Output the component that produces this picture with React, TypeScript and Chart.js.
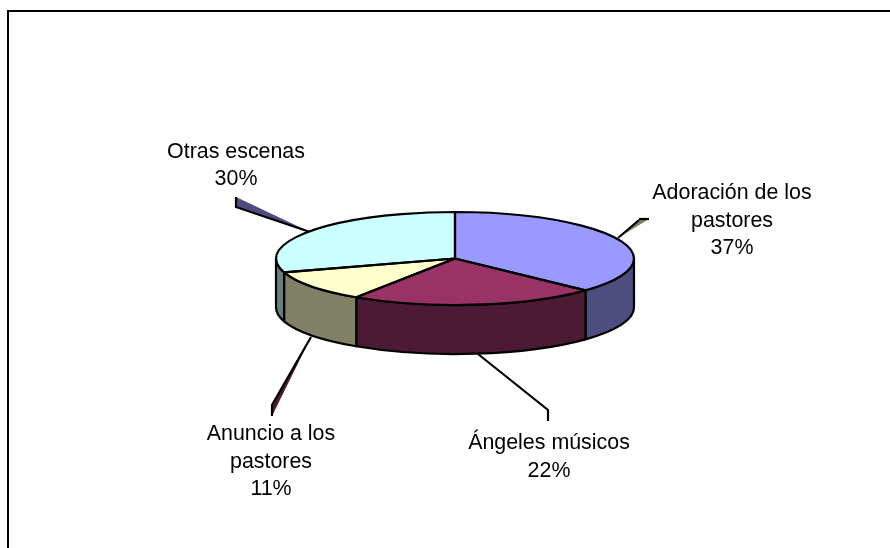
import React, { useEffect, useRef } from "react";
import { Chart, registerables } from "chart.js";

Chart.register(...registerables);

// ---- data ----
const categories = ["Adoración de los pastores", "Ángeles músicos", "Anuncio a los pastores", "Otras escenas"];
const seriesValues = [37, 22.3, 10.9, 29.8];
const percentLabels = ["37%", "22%", "11%", "30%"];
const labelLines = [["Adoración de los", "pastores"], ["Ángeles músicos"], ["Anuncio a los", "pastores"], ["Otras escenas"]];

// ---- styles ----
const topColors = ["#9999FF", "#993366", "#FFFFCC", "#CCFFFF"];
const wallColors = ["#4D4D80", "#4D1A33", "#808066", "#668080"];
const leaderFills = ["#808066", null, "#4D1A33", "#4D4D80"];
const FONT = '21.4px "Liberation Sans", Arial, sans-serif';
const LINE_H = 27.5;
const SQUASH = 46.5 / 179;
const DEPTH = 49;
const STROKE = 2.2;
const labelCenters = [{ x: 732, y: 193.5 }, { x: 549, y: 443.5 }, { x: 271, y: 434.5 }, { x: 236, y: 152 }];
// leader polylines and their thin fill wedge
const leaders = [
  { pts: [[618, 238], [639, 220]], wedge: [[618, 238], [639, 219], [649, 219]], edge: [[639, 219], [649, 219]] },
  { pts: [[478, 354], [548, 410], [548, 421]], wedge: null, edge: null },
  { pts: [[311, 337], [272, 405], [272, 416]], wedge: [[311, 337], [272, 405], [272, 416]], edge: null },
  { pts: [[310, 232], [236, 207], [236, 197]], wedge: [[310, 232], [236, 207], [236, 197]], edge: null },
];

function trace(ctx: CanvasRenderingContext2D, pts: number[][]) {
  ctx.beginPath();
  pts.forEach((p, i) => (i ? ctx.lineTo(p[0], p[1]) : ctx.moveTo(p[0], p[1])));
}

const piePlugin = {
  id: "pie3d",
  beforeDatasetsDraw(chart: any) {
    const ctx: CanvasRenderingContext2D = chart.ctx;
    const arcs = chart.getDatasetMeta(0).data;
    const cx = arcs[0].x, cy = arcs[0].y, r = arcs[0].outerRadius;
    ctx.save();
    // frame: only the top and left edges are in the picture
    ctx.strokeStyle = "#000";
    ctx.lineWidth = 2;
    ctx.beginPath();
    ctx.moveTo(8, 548);
    ctx.lineTo(8, 11);
    ctx.lineTo(890, 11);
    ctx.stroke();

    // leaders
    leaders.forEach((l, i) => {
      if (l.wedge && leaderFills[i]) {
        trace(ctx, l.wedge);
        ctx.closePath();
        ctx.fillStyle = leaderFills[i] as string;
        ctx.fill();
      }
      ctx.lineWidth = STROKE;
      ctx.lineJoin = "miter";
      trace(ctx, l.pts);
      ctx.stroke();
      if (l.edge) {
        trace(ctx, l.edge);
        ctx.stroke();
      }
    });

    // front walls
    const ry = r * SQUASH;
    ctx.lineWidth = STROKE;
    ctx.lineJoin = "round";
    arcs.forEach((a: any, i: number) => {
      // the front half of the disc is canvas angle 0..PI (also 2PI..3PI)
      for (const shift of [0, Math.PI * 2]) {
        const s = Math.max(a.startAngle, shift);
        const e = Math.min(a.endAngle, shift + Math.PI);
        if (e <= s) continue;
        ctx.beginPath();
        ctx.ellipse(cx, cy, r, ry, 0, s, e);
        ctx.ellipse(cx, cy + DEPTH, r, ry, 0, e, s, true);
        ctx.closePath();
        ctx.fillStyle = wallColors[i];
        ctx.fill();
        ctx.stroke();
      }
    });
    ctx.restore();

    // the disc itself is flattened
    ctx.save();
    ctx.translate(cx, cy);
    ctx.scale(1, SQUASH);
    ctx.translate(-cx, -cy);
  },
  afterDatasetsDraw(chart: any) {
    const ctx: CanvasRenderingContext2D = chart.ctx;
    ctx.restore();
    const arcs = chart.getDatasetMeta(0).data;
    const cx = arcs[0].x, cy = arcs[0].y, r = arcs[0].outerRadius;
    const ry = r * SQUASH;
    ctx.save();
    ctx.strokeStyle = "#000";
    ctx.lineWidth = STROKE;
    ctx.lineJoin = "round";
    arcs.forEach((a: any) => {
      ctx.beginPath();
      ctx.moveTo(cx, cy);
      ctx.ellipse(cx, cy, r, ry, 0, a.startAngle, a.endAngle);
      ctx.closePath();
      ctx.stroke();
    });

    // labels
    ctx.fillStyle = "#000";
    ctx.font = FONT;
    ctx.textAlign = "center";
    ctx.textBaseline = "middle";
    labelLines.forEach((lines, i) => {
      const c = labelCenters[i];
      [...lines, percentLabels[i]].forEach((t, k) => ctx.fillText(t, c.x, c.y + k * LINE_H));
    });
    ctx.restore();
  },
};

export default function App() {
  const ref = useRef<HTMLCanvasElement>(null);
  useEffect(() => {
    const chart = new Chart(ref.current as HTMLCanvasElement, {
      type: "pie",
      data: {
        labels: categories,
        datasets: [{ data: seriesValues, backgroundColor: topColors, borderWidth: 0, hoverOffset: 0 }],
      },
      options: {
        responsive: false,
        animation: false,
        events: [],
        layout: { padding: { left: 276, right: 256, top: 79.5, bottom: 110.5 } },
        plugins: { legend: { display: false }, tooltip: { enabled: false }, title: { display: false } },
      },
      plugins: [piePlugin],
    } as any);
    return () => chart.destroy();
  }, []);
  return (
    <div style={{ position: "fixed", left: 0, top: 0, width: 890, height: 548, background: "#fff" }}>
      <canvas ref={ref} width={890} height={548} style={{ display: "block" }} />
    </div>
  );
}
